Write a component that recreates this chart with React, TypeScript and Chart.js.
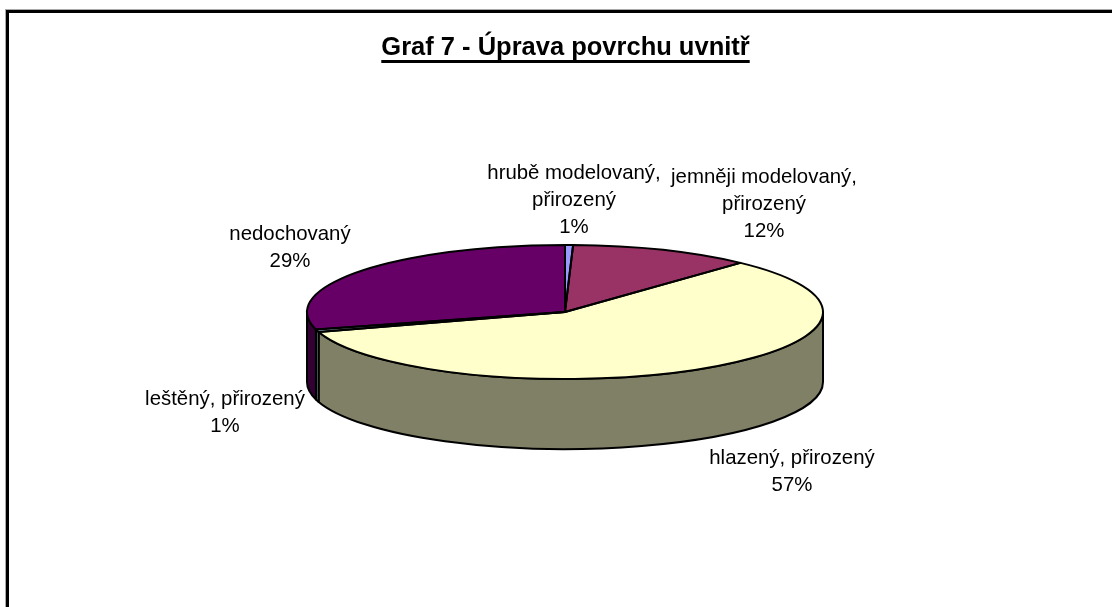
import React, { useEffect, useRef } from "react";
import { Chart, registerables } from "chart.js";

Chart.register(...registerables);

const titleText = "Graf 7 - Úprava povrchu uvnitř";
const categories = [
  "hrubě modelovaný, přirozený",
  "jemněji modelovaný, přirozený",
  "hlazený, přirozený",
  "leštěný, přirozený",
  "nedochovaný",
];
const labelLines = [
  ["hrubě modelovaný,", "přirozený", "1%"],
  ["jemněji modelovaný,", "přirozený", "12%"],
  ["hlazený, přirozený", "57%"],
  ["leštěný, přirozený", "1%"],
  ["nedochovaný", "29%"],
];
const values = [0.5, 11.4, 58.3, 0.6, 29.2];
const topColors = ["#9999FF", "#993366", "#FFFFCC", "#CCFFFF", "#660066"];
const wallColors = ["#4D4D80", "#4D1A33", "#808066", "#668080", "#330033"];
const labelCenters = [
  [574, 173],
  [764, 177],
  [792, 458],
  [225, 399],
  [290, 234],
];

const FONT = '"Liberation Sans", Arial, sans-serif';
const CX = 565;
const CY = 312;
const RX = 258;
const RY = 67;
const DEPTH = 70;

const pie3d = {
  id: "pie3d",
  beforeDraw(chart: any) {
    const { ctx, width, height } = chart;
    ctx.save();
    ctx.fillStyle = "#fff";
    ctx.fillRect(0, 0, width, height);
    ctx.fillStyle = "#aaa";
    ctx.fillRect(5, 9, width - 5, 1);
    ctx.fillRect(5, 9, 1, height - 9);
    ctx.fillStyle = "#000";
    ctx.fillRect(6, 10, width - 6, 3);
    ctx.fillRect(6, 10, 3, height - 10);
    ctx.restore();
  },
  beforeDatasetsDraw(chart: any) {
    const { ctx } = chart;
    const arcs = chart.getDatasetMeta(0).data;
    ctx.save();
    ctx.lineJoin = "round";
    ctx.strokeStyle = "#000";
    ctx.lineWidth = 2;
    arcs.forEach((arc: any, i: number) => {
      const a = Math.max(arc.startAngle, 0);
      const b = Math.min(arc.endAngle, Math.PI);
      if (b <= a) return;
      ctx.beginPath();
      ctx.ellipse(CX, CY, RX, RY, 0, a, b);
      ctx.ellipse(CX, CY + DEPTH, RX, RY, 0, b, a, true);
      ctx.closePath();
      ctx.fillStyle = wallColors[i];
      ctx.fill();
      ctx.stroke();
    });
    ctx.restore();
    ctx.save();
    ctx.translate(0, CY);
    ctx.scale(1, RY / RX);
    ctx.translate(0, -CY);
  },
  afterDatasetsDraw(chart: any) {
    const { ctx } = chart;
    ctx.restore();
    const arcs = chart.getDatasetMeta(0).data;
    ctx.save();
    ctx.lineJoin = "round";
    ctx.strokeStyle = "#000";
    ctx.lineWidth = 2;
    arcs.forEach((arc: any) => {
      ctx.beginPath();
      ctx.moveTo(CX, CY);
      ctx.ellipse(CX, CY, RX, RY, 0, arc.startAngle, arc.endAngle);
      ctx.closePath();
      ctx.stroke();
    });
    ctx.fillStyle = "#000";
    ctx.textAlign = "center";
    ctx.textBaseline = "middle";
    ctx.font = `20.4px ${FONT}`;
    labelLines.forEach((lines, i) => {
      lines.forEach((line, j) => {
        ctx.fillText(line, labelCenters[i][0], labelCenters[i][1] + j * 27);
      });
    });
    ctx.font = `bold 25.5px ${FONT}`;
    const w = ctx.measureText(titleText).width;
    ctx.fillText(titleText, 565.5, 48);
    ctx.fillRect(565.5 - w / 2, 60, w, 3);
    ctx.restore();
  },
};

export default function App() {
  const ref = useRef<HTMLCanvasElement>(null);
  useEffect(() => {
    document.body.style.margin = "0";
    const chart = new Chart(ref.current as HTMLCanvasElement, {
      type: "pie",
      data: {
        labels: categories,
        datasets: [
          {
            data: values,
            backgroundColor: topColors,
            borderWidth: 0,
          },
        ],
      },
      options: {
        responsive: false,
        animation: false,
        layout: {
          padding: {
            left: CX - RX,
            right: 1112 - CX - RX,
            top: CY - RX,
            bottom: 607 - CY - RX,
          },
        },
        plugins: {
          legend: { display: false },
          tooltip: { enabled: false },
          title: { display: false },
        },
      },
      plugins: [pie3d],
    });
    return () => chart.destroy();
  }, []);
  return (
    <canvas
      ref={ref}
      width={1112}
      height={607}
      style={{ display: "block", width: 1112, height: 607 }}
    />
  );
}
